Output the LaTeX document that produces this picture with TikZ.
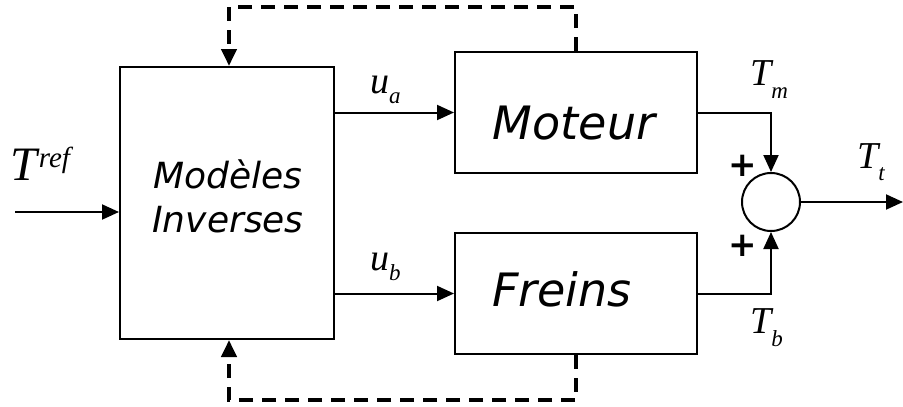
\documentclass[tikz,border=0pt]{standalone}
\usepackage{fontspec}
\setmainfont{Liberation Serif}
\newfontfamily\dvsans{DejaVu Sans}
\usetikzlibrary{arrows.meta,calc}
\newcommand\mlbl[3]{{\itshape #1}\raisebox{#3}{\fontsize{23}{23}\selectfont\itshape #2}}
\begin{document}
\begin{tikzpicture}[x=1pt,y=-1pt,
  blk/.style={draw, line width=2pt, inner sep=0pt},
  sig/.style={line width=2pt, -{Triangle[length=17pt,width=15pt]}},
  fb/.style={line width=4pt, dash pattern=on 14pt off 9pt, -{Triangle[length=17pt,width=15pt]}},
  boxtxt/.style={font=\dvsans\itshape\fontsize{46}{50}\selectfont, inner sep=0pt, anchor=base},
  invtxt/.style={font=\dvsans\itshape\fontsize{36}{40}\selectfont, inner sep=0pt, anchor=base},
  mth/.style={font=\fontsize{38}{40}\selectfont, inner sep=0pt, anchor=base west},
  plus/.style={font=\dvsans\bfseries\fontsize{34}{34}\selectfont, inner sep=0pt}
]
\useasboundingbox (0,0) rectangle (903,407);
% blocks
\node[blk, minimum width=214pt, minimum height=272pt] (inv) at (227,203) {};
\node[blk, minimum width=242pt, minimum height=121pt] (mot) at (576,112.5) {};
\node[blk, minimum width=242pt, minimum height=121pt] (fre) at (576,293.5) {};
\node[draw, circle, line width=2pt, minimum size=58pt, inner sep=0pt] (sum) at (771,202) {};
% block texts
\node[boxtxt] (motl) at (574,139) {Moteur};
\node[boxtxt] (frel) at (562,306) {Freins};
\node[invtxt] (inv1) at (228,188) {Modèles};
\node[invtxt] (inv2) at (228,232) {Inverses};
% coordinates
\coordinate (in) at (15,212);
\coordinate (out) at (903,202);
\coordinate (tl) at (229,7);
\coordinate (bl) at (229,400);
% signals
\draw[sig] (in) -- (in -| inv.west);
\draw[sig] (inv.east |- mot.west) -- (mot.west);
\draw[sig] (inv.east |- fre.west) -- (fre.west);
\draw[sig] (mot.east) -| (sum.north);
\draw[sig] (fre.east) -| (sum.south);
\draw[sig] (sum.east) -- (out);
% feedback dashed
\draw[fb] (mot.north) |- (tl) -- (tl |- inv.north);
\draw[fb] (fre.south) |- (bl) -- (bl |- inv.south);
% labels
\node[mth] (tref) at (10,180) {{\fontsize{48}{50}\selectfont\itshape T}\kern2pt\raisebox{13pt}{\fontsize{29}{29}\selectfont\itshape ref}};
\node[mth] (ua) at (370,93) {\mlbl{u}{a}{-10pt}};
\node[mth] (ub) at (370,270) {\mlbl{u}{b}{-10pt}};
\node[mth] (tm) at (750,85) {\mlbl{T}{m}{-13pt}};
\node[mth] (tt) at (857,168) {\mlbl{T}{t}{-12pt}};
\node[mth] (tb) at (750,333) {\mlbl{T}{b}{-13pt}};
\node[plus] (p1) at (743,166) {+};
\node[plus] (p2) at (743,246) {+};
\end{tikzpicture}
\end{document}
